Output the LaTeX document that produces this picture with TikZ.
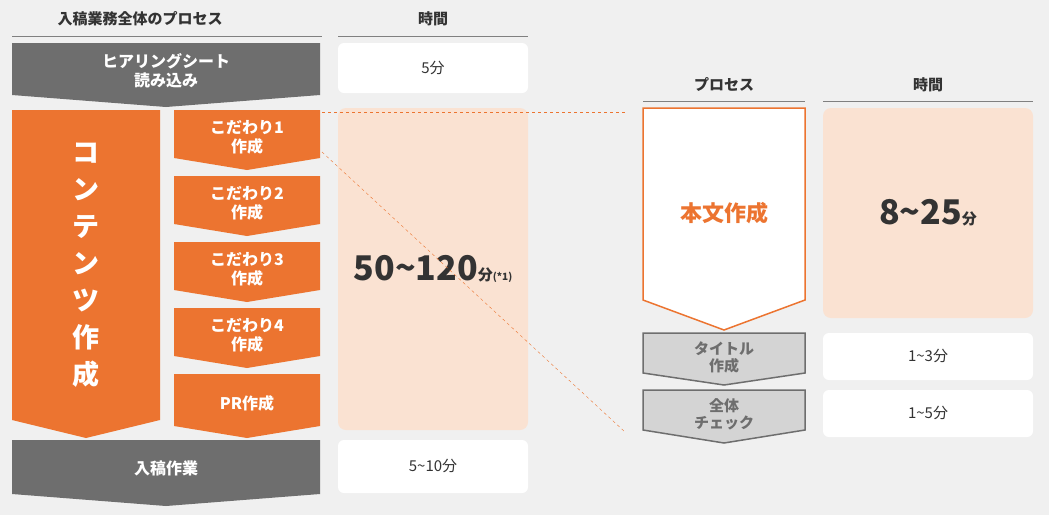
\documentclass[tikz,border=0pt]{standalone}
\usepackage{fontspec}
\setmainfont{Noto Sans CJK JP}
\usetikzlibrary{positioning}
\definecolor{bgc}{HTML}{F0F0F0}
\definecolor{org}{HTML}{EC7430}
\definecolor{peach}{HTML}{FAE2D2}
\definecolor{dgray}{HTML}{6E6E6E}
\definecolor{lgray}{HTML}{D4D4D4}
\definecolor{txt}{HTML}{333333}
\tikzset{
  hdr/.style={font=\bfseries\fontsize{15}{17}\selectfont, text=txt},
  tbox/.style={fill=white, rounded corners=6pt},
  pbox/.style={fill=peach, rounded corners=8pt},
  wlab/.style={font=\bfseries\fontsize{16}{19}\selectfont, text=white, align=center},
  glab/.style={font=\bfseries\fontsize{15}{17}\selectfont, text=dgray, align=center},
  tlab/.style={font=\fontsize{15}{17}\selectfont, text=txt}
}
% pentagon arrow: x0,y0,x1,y1(bottom of rect),tip
\newcommand{\penta}[6]{\path[#6] (#1,#2) -- (#3,#2) -- (#3,#4) -- ({(#1+#3)/2},#5) -- (#1,#4) -- cycle;}
\begin{document}
\begin{tikzpicture}[x=1pt,y=-1pt]
\fill[bgc] (0,0) rectangle (1049,515);
\useasboundingbox (0,0) rectangle (1049,515);
% headers
\node[hdr] (h1) at (140,19) {入稿業務全体のプロセス};
\draw[gray] (12,36) -- (322,36);
\node[hdr] (h2) at (433,19) {時間};
\draw[gray] (338,36) -- (528,36);
\node[hdr] (h3) at (724,85) {プロセス};
\draw[gray] (643,101) -- (805,101);
\node[hdr] (h4) at (928,85) {時間};
\draw[gray] (823,101) -- (1033,101);
% left processes
\penta{12}{43}{320}{95}{107}{fill=dgray}
\node[wlab] (hear) at (166,71) {ヒアリングシート\\読み込み};
\penta{12}{110}{160}{420}{438}{fill=org}
\node[wlab, font=\bfseries\fontsize{27}{37}\selectfont] (cont) at (86,265) {コ\\ン\\テ\\ン\\ツ\\作\\成};
\foreach \y/\t in {110/こだわり1, 176/こだわり2, 242/こだわり3, 308/こだわり4}{
  \penta{174}{\y}{320}{\y+48}{\y+60}{fill=org}
  \node[wlab] at (247,\y+27) {\t\\作成};
}
\penta{174}{374}{320}{426}{438}{fill=org}
\node[wlab] (pr) at (247,403) {PR作成};
\penta{12}{440}{320}{494}{506}{fill=dgray}
\node[wlab] (nyuko) at (166,468) {入稿作業};
% left times
\fill[tbox] (338,43) rectangle (528,93);
\node[tlab] (t1) at (433,68) {5分};
\fill[pbox] (338,108) rectangle (528,430);
\node[text=txt] (t2) at (433,269) {\bfseries\fontsize{34}{38}\selectfont 50\textasciitilde120\fontsize{15}{17}\selectfont 分\fontsize{10}{12}\selectfont (*1)};
\fill[tbox] (338,440) rectangle (528,493);
\node[tlab] (t3) at (433,466) {5\textasciitilde10分};
% dashed links
\coordinate (a1) at (322,112);
\coordinate (a2) at (625,112);
\coordinate (b1) at (322,152);
\coordinate (b2) at (625,432);
\draw[org, dashed, thin] (a1) -- (a2);
\draw[org, dashed, thin] (b1) -- (b2);
% right processes
\penta{643}{108}{805}{300}{330}{fill=white, draw=org, line width=1.5pt}
\node[font=\bfseries\fontsize{22}{26}\selectfont, text=org] (honbun) at (724,213) {本文作成};
\penta{643}{333}{805}{373}{385}{fill=lgray, draw=dgray, line width=1.5pt}
\node[glab] (title) at (724,357) {タイトル\\作成};
\penta{643}{390}{805}{430}{443}{fill=lgray, draw=dgray, line width=1.5pt}
\node[glab] (check) at (724,414) {全体\\チェック};
% right times
\fill[pbox] (823,108) rectangle (1033,318);
\node[text=txt] (r1) at (928,213) {\bfseries\fontsize{34}{38}\selectfont 8\textasciitilde25\fontsize{15}{17}\selectfont 分};
\fill[tbox] (823,333) rectangle (1033,380);
\node[tlab] (r2) at (928,356) {1\textasciitilde3分};
\fill[tbox] (823,390) rectangle (1033,437);
\node[tlab] (r3) at (928,413) {1\textasciitilde5分};
\end{tikzpicture}
\end{document}
